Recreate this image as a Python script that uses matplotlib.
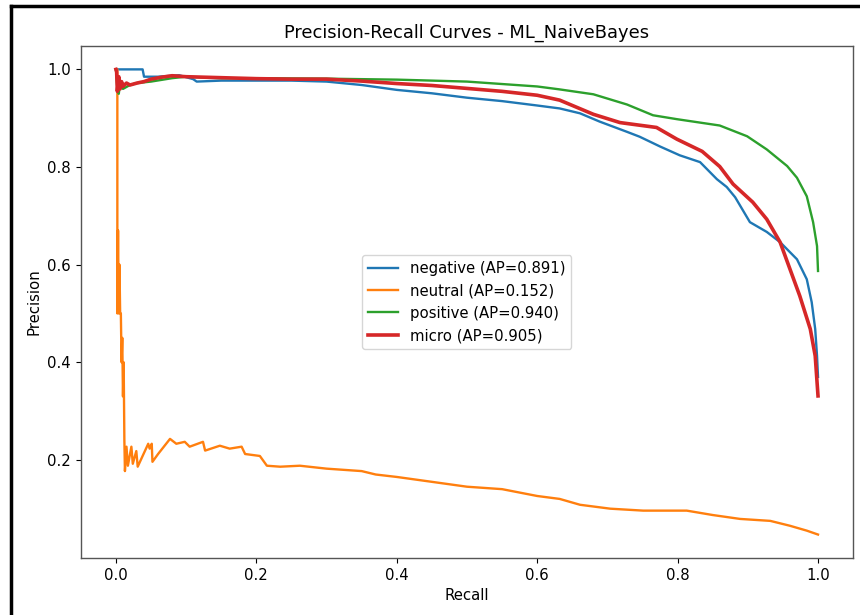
import matplotlib
matplotlib.use("Agg")
import matplotlib.pyplot as plt
from matplotlib.lines import Line2D

title = "Precision-Recall Curves - ML_NaiveBayes"

# negative class
neg_recall = [0.0, 0.038, 0.04, 0.06, 0.09, 0.11, 0.115, 0.15, 0.2, 0.25, 0.3, 0.35,
              0.4, 0.45, 0.5, 0.55, 0.6, 0.632, 0.661, 0.689, 0.728, 0.746, 0.775,
              0.803, 0.832, 0.856, 0.87, 0.882, 0.903, 0.927, 0.946, 0.97, 0.984,
              0.991, 0.996, 0.9986, 1.0]
neg_precision = [1.0, 1.0, 0.985, 0.985, 0.988, 0.98, 0.975, 0.977, 0.977, 0.977, 0.975,
                 0.968, 0.958, 0.951, 0.942, 0.935, 0.926, 0.92, 0.91, 0.893, 0.872,
                 0.862, 0.842, 0.824, 0.81, 0.775, 0.759, 0.738, 0.687, 0.667, 0.646,
                 0.611, 0.57, 0.523, 0.468, 0.413, 0.37]

# neutral class
neu_recall = [0.0, 0.002, 0.002, 0.003, 0.004, 0.005, 0.006, 0.007, 0.008, 0.009, 0.01,
              0.011, 0.012, 0.0128, 0.015, 0.017, 0.022, 0.024, 0.029, 0.031, 0.038,
              0.046, 0.048, 0.051, 0.052, 0.06, 0.077, 0.086, 0.098, 0.105, 0.124,
              0.127, 0.148, 0.162, 0.179, 0.184, 0.205, 0.215, 0.234, 0.262, 0.3,
              0.35, 0.37, 0.4, 0.45, 0.5, 0.55, 0.6, 0.632, 0.661, 0.704, 0.751,
              0.813, 0.85, 0.889, 0.932, 0.96, 0.984, 1.0]
neu_precision = [1.0, 1.0, 0.5, 0.67, 0.5, 0.6, 0.5, 0.5, 0.4, 0.45, 0.33, 0.4, 0.24,
                 0.177, 0.227, 0.188, 0.227, 0.192, 0.218, 0.186, 0.208, 0.233, 0.223,
                 0.233, 0.196, 0.212, 0.243, 0.233, 0.237, 0.227, 0.237, 0.219, 0.229,
                 0.223, 0.227, 0.212, 0.208, 0.188, 0.186, 0.188, 0.182, 0.177, 0.17,
                 0.165, 0.155, 0.145, 0.14, 0.126, 0.12, 0.108, 0.10, 0.096, 0.096,
                 0.087, 0.079, 0.075, 0.065, 0.055, 0.047]

# positive class
pos_recall = [0.0, 0.002, 0.004, 0.006, 0.01, 0.02, 0.03, 0.05, 0.08, 0.1, 0.15, 0.2,
              0.3, 0.4, 0.5, 0.6, 0.632, 0.68, 0.728, 0.765, 0.799, 0.86, 0.899, 0.927,
              0.956, 0.97, 0.984, 0.993, 0.9986, 1.0]
pos_precision = [1.0, 0.96, 0.95, 0.97, 0.96, 0.968, 0.972, 0.975, 0.982, 0.985, 0.982,
                 0.982, 0.981, 0.979, 0.975, 0.965, 0.959, 0.949, 0.928, 0.906, 0.898,
                 0.885, 0.863, 0.836, 0.802, 0.778, 0.74, 0.687, 0.638, 0.587]

# micro average
micro_recall = [0.0, 0.001, 0.002, 0.004, 0.006, 0.008, 0.01, 0.015, 0.02, 0.03, 0.04,
                0.05, 0.065, 0.08, 0.1, 0.15, 0.2, 0.25, 0.3, 0.35, 0.4, 0.45, 0.5,
                0.55, 0.6, 0.632, 0.68, 0.718, 0.77, 0.799, 0.835, 0.86, 0.879, 0.907,
                0.927, 0.946, 0.96, 0.974, 0.989, 0.996, 1.0]
micro_precision = [1.0, 0.995, 0.955, 0.985, 0.96, 0.975, 0.965, 0.972, 0.968, 0.972,
                   0.975, 0.98, 0.984, 0.987, 0.985, 0.983, 0.981, 0.98, 0.98, 0.976,
                   0.971, 0.967, 0.961, 0.955, 0.947, 0.937, 0.908, 0.891, 0.881, 0.857,
                   0.832, 0.801, 0.765, 0.728, 0.693, 0.646, 0.591, 0.536, 0.468, 0.413,
                   0.331]

labels = ["negative (AP=0.891)", "neutral (AP=0.152)", "positive (AP=0.940)", "micro (AP=0.905)"]

plt.rcParams["font.size"] = 10.7

fig = plt.figure(figsize=(8.6, 6.15), dpi=100)
ax = fig.add_axes([0.094, 0.093, 0.898, 0.832])

ax.plot(neg_recall, neg_precision, color="tab:blue", lw=1.7, label=labels[0])
ax.plot(neu_recall, neu_precision, color="tab:orange", lw=1.7, label=labels[1])
ax.plot(pos_recall, pos_precision, color="tab:green", lw=1.7, label=labels[2])
ax.plot(micro_recall, micro_precision, color="tab:red", lw=2.6, label=labels[3])

ax.set_title(title, fontsize=12.9)
ax.set_xlabel("Recall")
ax.set_ylabel("Precision")
ax.set_xticks([0.0, 0.2, 0.4, 0.6, 0.8, 1.0])
ax.set_yticks([0.2, 0.4, 0.6, 0.8, 1.0])
for s in ax.spines.values():
    s.set_color("#555555")
    s.set_linewidth(1.0)
ax.legend(loc="center")

# screenshot frame
fig.add_artist(Line2D([10.5 / 860, 10.5 / 860], [0, 1 - 6 / 615], color="black", lw=2.5,
                      transform=fig.transFigure))
fig.add_artist(Line2D([10.5 / 860, 1], [1 - 6 / 615, 1 - 6 / 615], color="black", lw=2.5,
                      transform=fig.transFigure))

fig.savefig("out.png", dpi=100)
